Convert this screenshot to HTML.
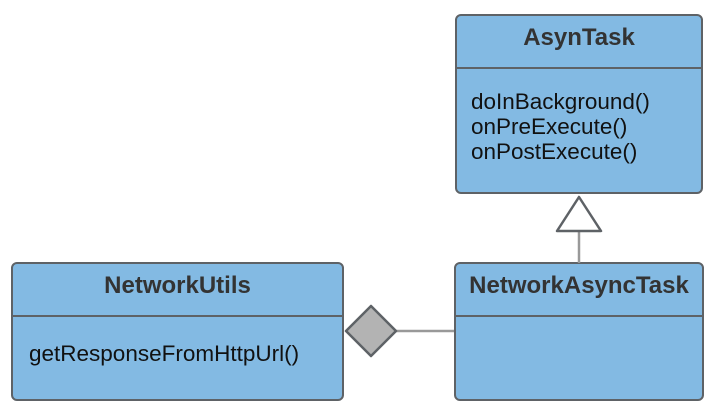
<!DOCTYPE html>
<html><head><style>
body{margin:0;width:716px;height:412px;background:#fff;position:relative;font-family:"Liberation Sans",sans-serif;overflow:hidden}
.b{position:absolute;background:#83bae3;border:2.5px solid #5e6266;border-radius:6px;box-sizing:border-box}
.h{position:absolute;left:0;right:0;text-align:center;font-weight:bold;font-size:24px;color:#333}
.d{position:absolute;left:0;right:0;border-top:2.5px solid #5e6266}
.t{position:absolute;left:14px;font-size:22.5px;color:#111;line-height:25px}
</style></head><body>
<div class="b" style="left:455px;top:14px;width:248px;height:180px">
 <div class="h" style="top:8px">AsynTask</div>
 <div class="d" style="top:51px"></div>
 <div class="t" style="top:73px">doInBackground()<br>onPreExecute()<br>onPostExecute()</div>
</div>
<div class="b" style="left:454px;top:262px;width:250px;height:139px">
 <div class="h" style="top:8px">NetworkAsyncTask</div>
 <div class="d" style="top:51px"></div>
</div>
<div class="b" style="left:11px;top:262px;width:333px;height:139px">
 <div class="h" style="top:8px">NetworkUtils</div>
 <div class="d" style="top:51px"></div>
 <div class="t" style="top:77px;left:16px">getResponseFromHttpUrl()</div>
</div>
<svg width="716" height="412" style="position:absolute;left:0;top:0">
 <line x1="579" y1="232" x2="579" y2="263" stroke="#999" stroke-width="2.5"/>
 <polygon points="579,197 601,231 557,231" fill="#fff" stroke="#5e6266" stroke-width="2.5" stroke-linejoin="round"/>
 <line x1="396" y1="331" x2="454" y2="331" stroke="#999" stroke-width="2.5"/>
 <polygon points="371,306 396,331 371,356 346,331" fill="#b3b3b3" stroke="#5e6266" stroke-width="2.5" stroke-linejoin="round"/>
</svg>
</body></html>
